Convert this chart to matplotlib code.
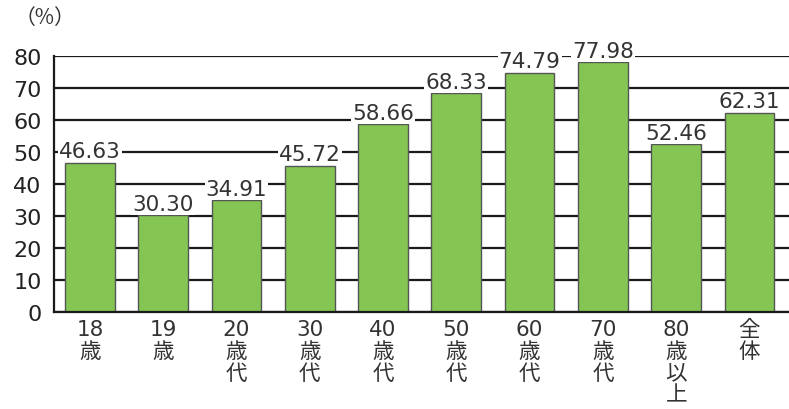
import numpy as np
import matplotlib.pyplot as plt

plt.rcParams['font.family'] = ['DejaVu Sans', 'Noto Sans CJK JP']

categories = ["18\n歳", "19\n歳", "20\n歳\n代", "30\n歳\n代", "40\n歳\n代",
              "50\n歳\n代", "60\n歳\n代", "70\n歳\n代", "80\n歳\n以\n上", "全\n体"]
values = [46.63, 30.30, 34.91, 45.72, 58.66, 68.33, 74.79, 77.98, 52.46, 62.31]
yticks = [0, 10, 20, 30, 40, 50, 60, 70, 80]

fig = plt.figure(figsize=(7.89, 4.10), dpi=100)
ax = fig.add_axes([0.0684, 0.2366, 0.9316, 0.6244])

x = np.arange(len(values))
ax.set_axisbelow(True)
ax.yaxis.grid(True, color="#1a1a1a", linewidth=1.6)
bars = ax.bar(x, values, width=0.68, color="#84c553", edgecolor="#555555", linewidth=1.0, zorder=2)

for xi, v in zip(x, values):
    ax.annotate(f"{v:.2f}", (xi, v), xytext=(0, 1), textcoords="offset points",
                ha="center", va="bottom", fontsize=15.5, color="#333333",
                bbox=dict(boxstyle="square,pad=0.05", fc="white", ec="none"), zorder=3)

ax.set_xlim(-0.49, 9.54)
ax.set_ylim(0, 80)
ax.set_yticks(yticks)
ax.set_yticklabels([str(t) for t in yticks], fontsize=16, color="#222222")
ax.set_xticks(x)
ax.set_xticklabels(categories, fontsize=15.5, color="#333333", linespacing=1.12, va="top")
ax.tick_params(axis="both", length=0)
ax.tick_params(axis="y", pad=9)
ax.tick_params(axis="x", pad=5)

for s in ["top", "right"]:
    ax.spines[s].set_visible(False)
ax.spines["left"].set_color("#1a1a1a")
ax.spines["left"].set_linewidth(1.6)
ax.spines["bottom"].set_color("#1a1a1a")
ax.spines["bottom"].set_linewidth(1.6)

fig.text(0.018, 0.955, "（%）", fontsize=15, color="#333333", va="center", ha="left",
         family=['Noto Sans CJK JP', 'DejaVu Sans'])

fig.savefig("out.png", dpi=100)
